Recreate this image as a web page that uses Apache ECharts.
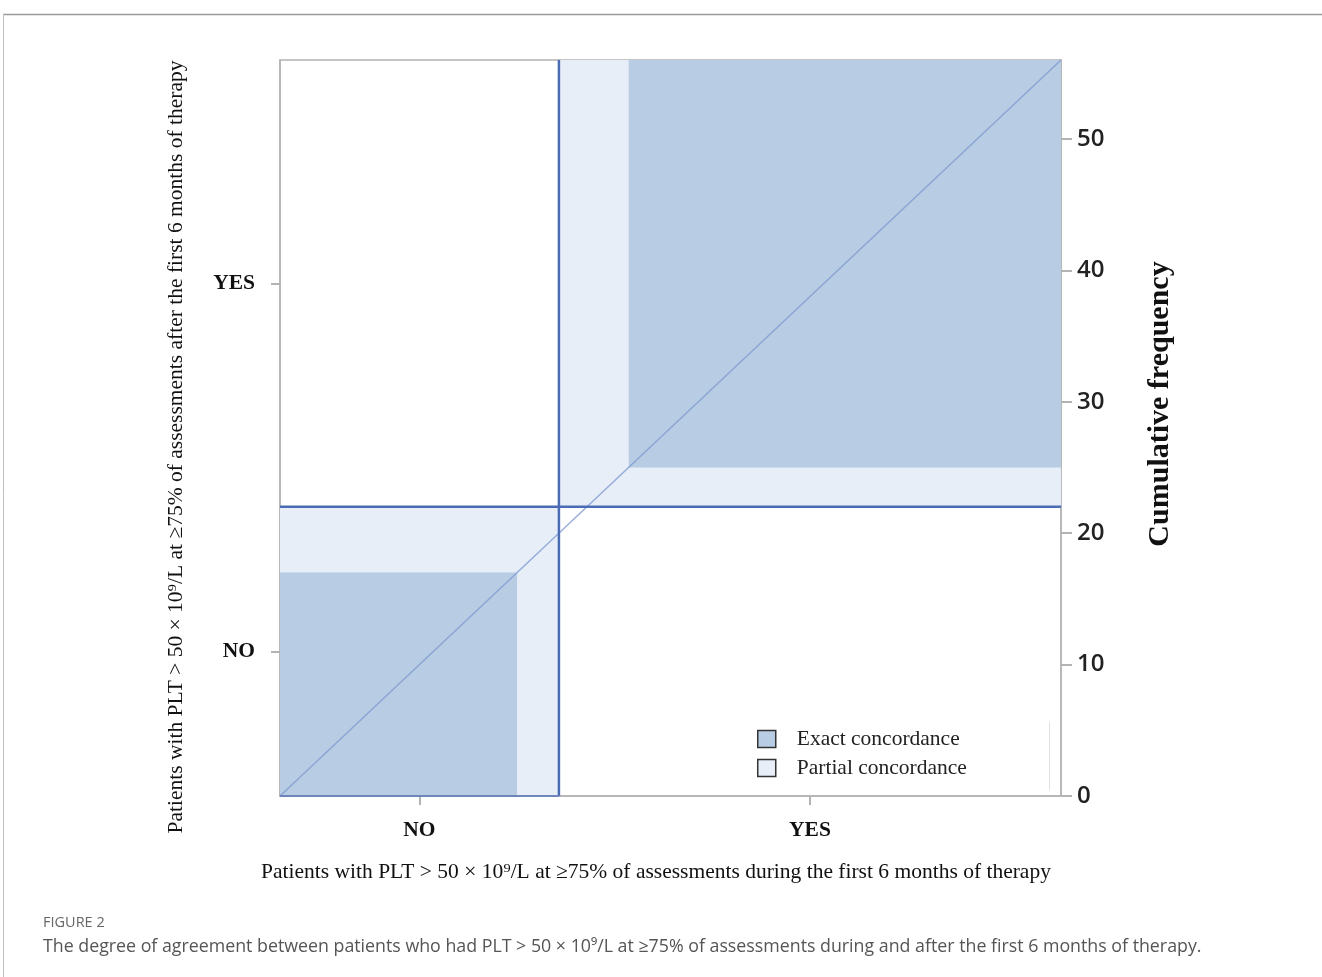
<!DOCTYPE html>
<html>
<head>
<meta charset="utf-8">
<script src="https://cdn.jsdelivr.net/npm/echarts@6/dist/echarts.min.js"></script>
<style>
html,body{margin:0;padding:0;background:#fff;}
#chart{width:1322px;height:977px;}
</style>
</head>
<body>
<div id="chart"></div>
<script>
// Data: agreement table (rows = after first 6 months, y axis; cols = during first 6 months, x axis)
const rowLabels = ['NO', 'YES'];
const colLabels = ['NO', 'YES'];
const counts = [[17, 5], [3, 31]];
const rightTicks = [0, 10, 20, 30, 40, 50];
const legendNames = ['Exact concordance', 'Partial concordance'];

// Derived totals
const rowTotals = counts.map(r => r[0] + r[1]);
const colTotals = [counts[0][0] + counts[1][0], counts[0][1] + counts[1][1]];
const N = rowTotals[0] + rowTotals[1];
const rowCum = [0, rowTotals[0]];
const colCum = [0, colTotals[0]];
const rowMid = rowTotals.map((t, i) => rowCum[i] + t / 2);
const colMid = colTotals.map((t, i) => colCum[i] + t / 2);

const partialRects = [0, 1].map(k => [colCum[k], rowCum[k], colCum[k] + colTotals[k], rowCum[k] + rowTotals[k]]);
const exactRects = [0, 1].map(k => {
  let x0 = colCum[k], y0 = rowCum[k];
  for (let i = 0; i < k; i++) x0 += counts[i][k];
  for (let j = 0; j < k; j++) y0 += counts[k][j];
  return [x0, y0, x0 + counts[k][k], y0 + counts[k][k]];
});

const EXACT = '#b8cce4';
const PARTIAL = '#e8eef8';
const BLUE = '#4a6cb4';
const GREY = '#b3b3b3';

function rectRender(params, api) {
  const p0 = api.coord([api.value(0), api.value(1)]);
  const p1 = api.coord([api.value(2), api.value(3)]);
  return {
    type: 'rect',
    shape: { x: Math.min(p0[0], p1[0]), y: Math.min(p0[1], p1[1]), width: Math.abs(p1[0] - p0[0]), height: Math.abs(p1[1] - p0[1]) },
    style: { fill: api.visual('color') }
  };
}

const serif = 'Liberation Serif, Times New Roman, serif';
const chart = echarts.init(document.getElementById('chart'));
chart.setOption({
  animation: false,
  backgroundColor: '#fff',
  grid: { left: 280, right: 261, top: 60, bottom: 181, show: true, borderColor: GREY, borderWidth: 1.5, backgroundColor: 'transparent' },
  legend: {
    orient: 'vertical', left: 752, top: 723, itemWidth: 18, itemHeight: 17, itemGap: 7,
    textStyle: { fontFamily: serif, fontSize: 21.5, color: '#222', padding: [0, 0, 0, 16] },
    data: [
      { name: legendNames[0], icon: 'rect', itemStyle: { color: EXACT, borderColor: '#333', borderWidth: 1.5 } },
      { name: legendNames[1], icon: 'rect', itemStyle: { color: PARTIAL, borderColor: '#333', borderWidth: 1.5 } }
    ]
  },
  xAxis: {
    type: 'value', min: 0, max: N, position: 'bottom',
    splitLine: { show: false },
    axisLine: { show: true, lineStyle: { color: GREY, width: 1.5 } },
    axisTick: { show: true, length: 9, customValues: colMid, lineStyle: { color: GREY, width: 2 } },
    axisLabel: { customValues: colMid, margin: 23, fontFamily: serif, fontWeight: 'bold', fontSize: 21.5, color: '#111',
      formatter: v => colLabels[colMid.indexOf(v)] || '' }
  },
  yAxis: [
    {
      type: 'value', min: 0, max: N, position: 'left',
      splitLine: { show: false },
      axisLine: { show: true, lineStyle: { color: GREY, width: 1.5 } },
      axisTick: { show: true, length: 9, customValues: rowMid, lineStyle: { color: GREY, width: 2 } },
      axisLabel: { customValues: rowMid, margin: 25, fontFamily: serif, fontWeight: 'bold', fontSize: 21.5, color: '#111',
        formatter: v => rowLabels[rowMid.indexOf(v)] || '' }
    },
    {
      type: 'value', min: 0, max: N, position: 'right',
      splitLine: { show: false },
      axisLine: { show: true, lineStyle: { color: GREY, width: 1.5 } },
      axisTick: { show: true, length: 11, customValues: rightTicks, lineStyle: { color: GREY, width: 2 } },
      axisLabel: { customValues: rightTicks, margin: 16, fontFamily: 'Open Sans, sans-serif', fontWeight: 600, fontSize: 24, color: '#222' }
    }
  ],
  series: [
    { name: legendNames[1], type: 'custom', renderItem: rectRender, itemStyle: { color: PARTIAL },
      encode: { x: [0, 2], y: [1, 3] }, data: partialRects, z: 1, silent: true },
    { name: legendNames[0], type: 'custom', renderItem: rectRender, itemStyle: { color: EXACT },
      encode: { x: [0, 2], y: [1, 3] }, data: exactRects, z: 2, silent: true },
    { type: 'line', data: [[0, 0], [N, N]], symbol: 'none', lineStyle: { color: '#7f9bd2', width: 1.5, opacity: 0.8 }, z: 3, silent: true },
    { type: 'line', data: [[colTotals[0], 0], [colTotals[0], N]], symbol: 'none', lineStyle: { color: BLUE, width: 2.5 }, z: 4, silent: true },
    { type: 'line', data: [[0, rowTotals[0]], [N, rowTotals[0]]], symbol: 'none', lineStyle: { color: BLUE, width: 2.5 }, z: 4, silent: true },
    { type: 'line', data: [[0, 0], [colTotals[0], 0]], symbol: 'none', lineStyle: { color: '#6f86bd', width: 2 }, z: 4, silent: true }
  ],
  graphic: [
    { type: 'line', shape: { x1: 3, y1: 14.5, x2: 1322, y2: 14.5 }, style: { stroke: '#9a9a9a', lineWidth: 1.5 } },
    { type: 'line', shape: { x1: 3.5, y1: 14, x2: 3.5, y2: 977 }, style: { stroke: '#bdbdbd', lineWidth: 1 } },
    { type: 'line', shape: { x1: 1049.5, y1: 722, x2: 1049.5, y2: 790 }, style: { stroke: '#e2e2e2', lineWidth: 1 } },
    { type: 'text', x: 656, y: 872, style: { text: 'Patients with PLT > 50 × 10⁹/L at ≥75% of assessments during the first 6 months of therapy',
      fontFamily: serif, fontSize: 21.5, fill: '#111', textAlign: 'center', textVerticalAlign: 'middle' } },
    { type: 'text', x: 176, y: 447, rotation: Math.PI / 2, style: { text: 'Patients with PLT > 50 × 10⁹/L at ≥75% of assessments after the first 6 months of therapy',
      fontFamily: serif, fontSize: 21.5, fill: '#111', textAlign: 'center', textVerticalAlign: 'middle' } },
    { type: 'text', x: 1160, y: 404, rotation: Math.PI / 2, style: { text: 'Cumulative frequency',
      fontFamily: serif, fontWeight: 'bold', fontSize: 30, fill: '#111', textAlign: 'center', textVerticalAlign: 'middle' } },
    { type: 'text', left: 43, top: 915, style: { text: 'FIGURE 2', fontFamily: 'Open Sans, sans-serif', fontSize: 14.5, fill: '#666' } },
    { type: 'text', left: 43, top: 938, style: { text: 'The degree of agreement between patients who had PLT > 50 × 10⁹/L at ≥75% of assessments during and after the first 6 months of therapy.', fontFamily: 'Open Sans, sans-serif', fontSize: 17.8, fill: '#555' } }
  ]
});
</script>
</body>
</html>
